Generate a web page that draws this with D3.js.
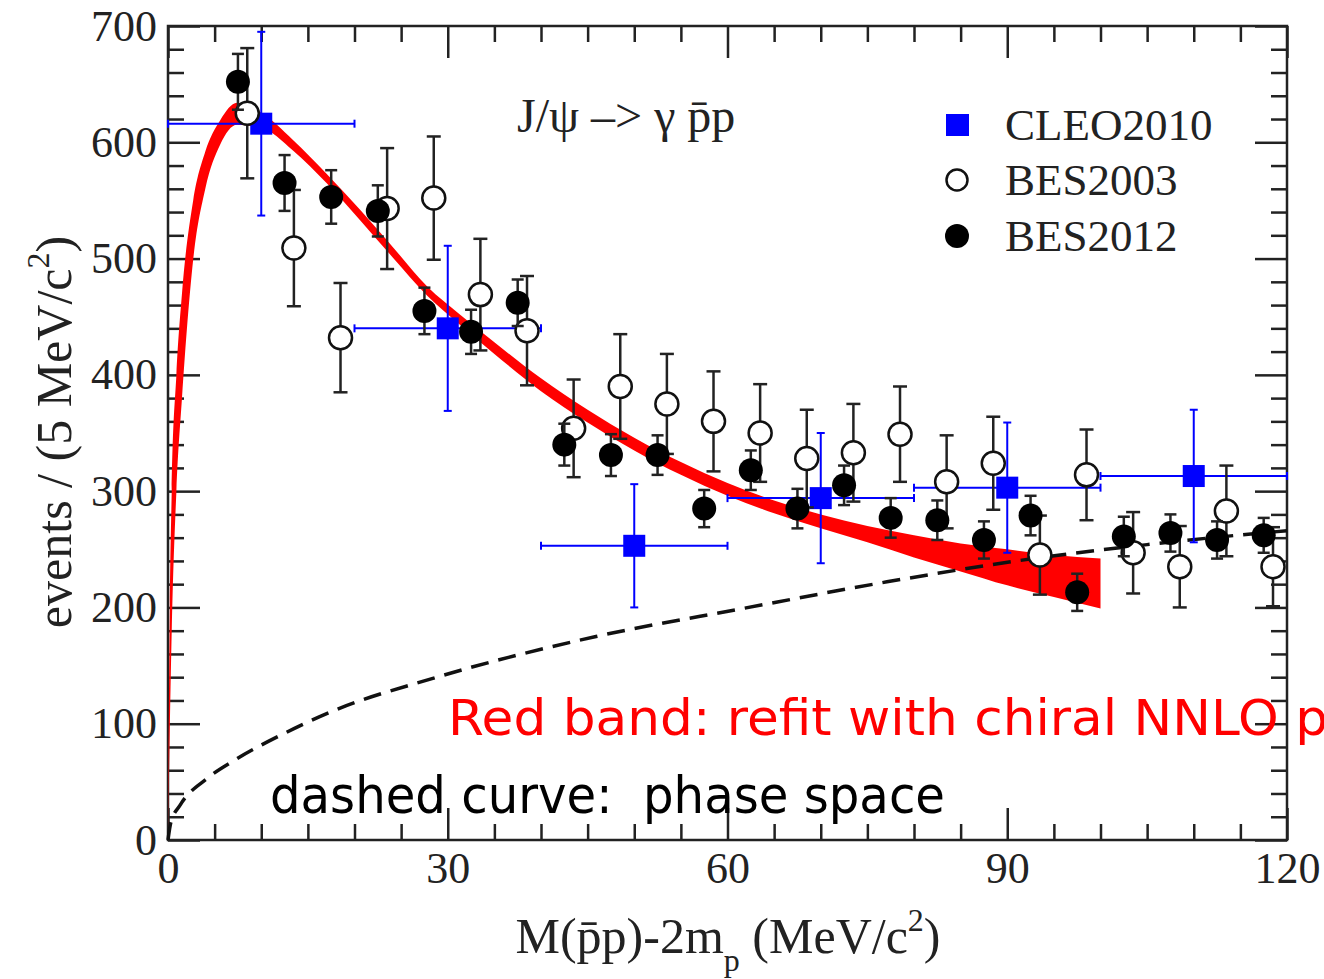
<!DOCTYPE html>
<html>
<head>
<meta charset="utf-8">
<script src="https://cdn.jsdelivr.net/npm/d3@7"></script>
<style>
  body { margin: 0; background: #fff; }
  svg { display: block; }
</style>
</head>
<body>
<svg id="chart" width="1324" height="979"></svg>
<script>
// tick labels
const xMajor = [0, 30, 60, 90, 120]
const yMajor = [0, 100, 200, 300, 400, 500, 600, 700]

// BES2012 (filled circles)
const bes12X = [7.5, 12.5, 17.5, 22.5, 27.5, 32.5, 37.5, 42.5, 47.5, 52.5, 57.5, 62.5, 67.5, 72.5, 77.5, 82.5, 87.5, 92.5, 97.5, 102.5, 107.5, 112.5, 117.5]
const bes12Y = [652, 565, 553, 541, 455, 437, 462, 340, 331, 331, 285, 318, 285, 305, 277, 275, 258, 279, 213, 261, 264, 258, 262]
const bes12Err = [24, 24, 23, 22, 20, 19, 20, 18, 18, 17, 16, 17, 17, 17, 17, 17, 16, 17, 16, 17, 16, 16, 15]

// BES2003 (open circles)
const bes03X = [8.5, 13.5, 18.5, 23.5, 28.5, 33.5, 38.5, 43.5, 48.5, 53.5, 58.5, 63.5, 68.5, 73.5, 78.5, 83.5, 88.5, 93.5, 98.5, 103.5, 108.5, 113.5, 118.5]
const bes03Y = [625, 509, 432, 543, 552, 469, 438, 354, 390, 375, 360, 350, 328, 333, 349, 308, 324, 245, 314, 247, 235, 283, 235]
const bes03Err = [56, 50, 47, 52, 53, 48, 47, 42, 45, 43, 43, 42, 42, 42, 41, 40, 40, 34, 39, 35, 35, 39, 34]

// CLEO2010 (blue squares)
const cleoX = [10, 30, 50, 70, 90, 110]
const cleoY = [616, 440, 253, 294, 303, 313]
const cleoErr = [79, 71, 53, 56, 56, 57]
const cleoXErr = [10, 10, 10, 10, 10, 10]

// red band (chiral NNLO refit)
const bandX = [0, 0.2, 0.4, 0.9, 1.5, 2.7, 4, 5.6, 7.4, 9.9, 13.4, 17, 20.6, 24.1, 27.8, 31.3, 35, 40, 45, 50, 55, 60, 65, 70, 75, 80, 85, 90, 95, 100]
const bandHi = [0, 200, 300, 400, 470, 550, 592, 619, 634, 626, 602, 573, 542, 510, 476, 452, 428, 397, 370, 346, 325, 307, 292, 280, 270, 262, 255, 250, 245, 242]
const bandLo = [0, 100, 180, 300, 380, 499, 560, 598, 615, 613, 593, 565, 533, 501, 468, 443, 418, 386, 359, 335, 314, 296, 281, 268, 256, 243, 231, 219, 209, 199]

// dashed phase space curve
const psX = [0, 0.3, 1.3, 4.2, 7, 12.3, 17.7, 28.4, 45.9, 61.6, 77.1, 92.8, 105, 112, 120]
const psY = [0, 15, 30, 53, 68, 91, 111, 139, 175, 199, 222, 242, 254, 260, 266]

const legendNames = ['CLEO2010', 'BES2003', 'BES2012']

const serif = "'Liberation Serif', 'Times New Roman', serif"
const comic = "'DejaVu Sans', sans-serif"
const ink = '#222'

const svg = d3.select('#chart')
const x = d3.scaleLinear().domain([0, 120]).range([168, 1287])
const y = d3.scaleLinear().domain([0, 700]).range([840, 26])

// ---- axes (inward ticks on all four sides)
const xMinor = d3.range(0, 121, 5).filter(v => v % 30 !== 0)
const yMinor = d3.range(0, 701, 20).filter(v => v % 100 !== 0)

function styleAxis(g) {
  g.select('.domain').remove()
  g.selectAll('line').attr('stroke', ink).attr('stroke-width', 2.5)
  g.selectAll('text').attr('font-family', serif).attr('font-size', 44).attr('fill', ink)
}

svg.append('g').attr('transform', 'translate(0,840)')
  .call(d3.axisBottom(x).tickValues(xMajor).tickSize(-32).tickPadding(12).tickFormat(d3.format('d')))
  .call(styleAxis)
svg.append('g').attr('transform', 'translate(0,840)')
  .call(d3.axisBottom(x).tickValues(xMinor).tickSize(-16).tickFormat(''))
  .call(styleAxis)
svg.append('g').attr('transform', 'translate(0,26)')
  .call(d3.axisTop(x).tickValues(xMajor).tickSize(-32).tickFormat(''))
  .call(styleAxis)
svg.append('g').attr('transform', 'translate(0,26)')
  .call(d3.axisTop(x).tickValues(xMinor).tickSize(-16).tickFormat(''))
  .call(styleAxis)

svg.append('g').attr('transform', 'translate(168,0)')
  .call(d3.axisLeft(y).tickValues(yMajor).tickSize(-32).tickPadding(11).tickFormat(d3.format('d')))
  .call(styleAxis)
svg.append('g').attr('transform', 'translate(168,0)')
  .call(d3.axisLeft(y).tickValues(yMinor).tickSize(-16).tickFormat(''))
  .call(styleAxis)
svg.append('g').attr('transform', 'translate(1287,0)')
  .call(d3.axisRight(y).tickValues(yMajor).tickSize(-32).tickFormat(''))
  .call(styleAxis)
svg.append('g').attr('transform', 'translate(1287,0)')
  .call(d3.axisRight(y).tickValues(yMinor).tickSize(-16).tickFormat(''))
  .call(styleAxis)

svg.append('rect')
  .attr('x', x(0)).attr('y', y(700))
  .attr('width', x(120) - x(0)).attr('height', y(0) - y(700))
  .attr('fill', 'none').attr('stroke', ink).attr('stroke-width', 2.5)

// ---- red band
const band = bandX.map((v, i) => ({ x: v, hi: bandHi[i], lo: bandLo[i] }))
svg.append('path')
  .datum(band)
  .attr('fill', '#ff0000')
  .attr('d', d3.area().x(d => x(d.x)).y0(d => y(d.lo)).y1(d => y(d.hi)).curve(d3.curveMonotoneX))

// ---- phase space
const ps = psX.map((v, i) => ({ x: v, y: psY[i] }))
svg.append('path')
  .datum(ps)
  .attr('fill', 'none')
  .attr('stroke', '#111')
  .attr('stroke-width', 3.5)
  .attr('stroke-dasharray', '18,10')
  .attr('d', d3.line().x(d => x(d.x)).y(d => y(d.y)).curve(d3.curveMonotoneX))

// ---- CLEO2010
const cleo = cleoX.map((v, i) => ({ x: v, y: cleoY[i], e: cleoErr[i], xe: cleoXErr[i] }))
const gc = svg.append('g').attr('stroke', '#0000ff').attr('stroke-width', 2)
gc.selectAll('.v').data(cleo).enter().append('line')
  .attr('x1', d => x(d.x)).attr('x2', d => x(d.x))
  .attr('y1', d => y(d.y - d.e)).attr('y2', d => y(d.y + d.e))
gc.selectAll('.h').data(cleo).enter().append('line')
  .attr('x1', d => x(d.x - d.xe)).attr('x2', d => x(d.x + d.xe))
  .attr('y1', d => y(d.y)).attr('y2', d => y(d.y))
gc.selectAll('.cv').data(cleo.flatMap(d => [d.y - d.e, d.y + d.e].map(v => ({ x: d.x, v })))).enter().append('line')
  .attr('x1', d => x(d.x) - 4).attr('x2', d => x(d.x) + 4)
  .attr('y1', d => y(d.v)).attr('y2', d => y(d.v))
gc.selectAll('.ch').data(cleo.flatMap(d => [d.x - d.xe, d.x + d.xe].map(v => ({ y: d.y, v })))).enter().append('line')
  .attr('x1', d => x(d.v)).attr('x2', d => x(d.v))
  .attr('y1', d => y(d.y) - 4).attr('y2', d => y(d.y) + 4)
svg.append('g').selectAll('rect').data(cleo).enter().append('rect')
  .attr('x', d => x(d.x) - 11).attr('y', d => y(d.y) - 11)
  .attr('width', 22).attr('height', 22)
  .attr('fill', '#0000ff')

// ---- error bars helper for BES sets
function errBars(data, cap) {
  const g = svg.append('g').attr('stroke', ink).attr('stroke-width', 2.5)
  g.selectAll('.v').data(data).enter().append('line')
    .attr('x1', d => x(d.x)).attr('x2', d => x(d.x))
    .attr('y1', d => y(d.y - d.e)).attr('y2', d => y(d.y + d.e))
  g.selectAll('.c').data(data.flatMap(d => [d.y - d.e, d.y + d.e].map(v => ({ x: d.x, v })))).enter().append('line')
    .attr('x1', d => x(d.x) - cap).attr('x2', d => x(d.x) + cap)
    .attr('y1', d => y(d.v)).attr('y2', d => y(d.v))
}

const bes03 = bes03X.map((v, i) => ({ x: v, y: bes03Y[i], e: bes03Err[i] }))
errBars(bes03, 7)
svg.append('g').selectAll('circle').data(bes03).enter().append('circle')
  .attr('cx', d => x(d.x)).attr('cy', d => y(d.y)).attr('r', 11.5)
  .attr('fill', '#fff').attr('stroke', '#111').attr('stroke-width', 2.5)

const bes12 = bes12X.map((v, i) => ({ x: v, y: bes12Y[i], e: bes12Err[i] }))
errBars(bes12, 6)
svg.append('g').selectAll('circle').data(bes12).enter().append('circle')
  .attr('cx', d => x(d.x)).attr('cy', d => y(d.y)).attr('r', 12)
  .attr('fill', '#000')

// ---- legend
const lg = svg.append('g')
const rowY = [125, 180, 236]
lg.append('rect').attr('x', 946).attr('y', rowY[0] - 11).attr('width', 23).attr('height', 22).attr('fill', '#0000ff')
lg.append('circle').attr('cx', 957).attr('cy', rowY[1]).attr('r', 10.5)
  .attr('fill', '#fff').attr('stroke', '#111').attr('stroke-width', 2.5)
lg.append('circle').attr('cx', 957).attr('cy', rowY[2]).attr('r', 12).attr('fill', '#000')
lg.selectAll('text').data(legendNames).enter().append('text')
  .attr('x', 1005).attr('y', (d, i) => rowY[i] + 15)
  .attr('font-family', serif).attr('font-size', 45).attr('fill', ink)
  .text(d => d)

// ---- reaction label
svg.append('text')
  .attr('x', 517).attr('y', 132)
  .attr('font-family', serif).attr('font-size', 48).attr('fill', ink)
  .text('J/\u03c8 \u2013> \u03b3 p\u0304p')

// ---- axis titles
const xt = svg.append('text')
  .attr('x', 728).attr('y', 953).attr('text-anchor', 'middle')
  .attr('font-family', serif).attr('font-size', 50).attr('fill', ink)
xt.append('tspan').text('M(p\u0304p)-2m')
xt.append('tspan').attr('font-size', 32).attr('dy', 18).text('p')
xt.append('tspan').attr('dy', -18).text(' (MeV/c')
xt.append('tspan').attr('font-size', 32).attr('dy', -22).text('2')
xt.append('tspan').attr('dy', 22).text(')')

const yt = svg.append('text')
  .attr('transform', 'translate(71,432) rotate(-90)').attr('text-anchor', 'middle')
  .attr('font-family', serif).attr('font-size', 50).attr('fill', ink)
yt.append('tspan').text('events / (5 MeV/c')
yt.append('tspan').attr('font-size', 32).attr('dy', -22).text('2')
yt.append('tspan').attr('dy', 22).text(')')

// ---- annotations
svg.append('text')
  .attr('x', 448).attr('y', 735)
  .attr('font-family', comic).attr('font-size', 50).attr('fill', '#ff0000')
  .attr('textLength', 880).attr('lengthAdjust', 'spacingAndGlyphs')
  .text('Red band: refit with chiral NNLO p')

svg.append('text')
  .attr('x', 270).attr('y', 813)
  .attr('font-family', comic).attr('font-size', 52).attr('fill', '#000')
  .style('white-space', 'pre')
  .attr('textLength', 675).attr('lengthAdjust', 'spacingAndGlyphs')
  .text('dashed curve:  phase space')
</script>
</body>
</html>
